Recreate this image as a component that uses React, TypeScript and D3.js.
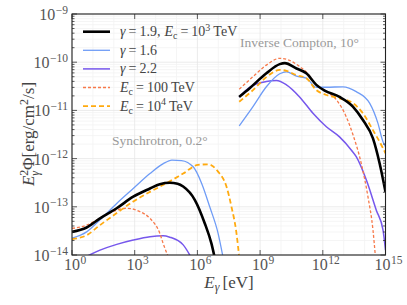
import React from 'react';
import * as d3 from 'd3';

const W = 407;
const H = 305;
const PL = 72, PT = 14, PR = 385.5, PB = 255;

// log10(E / eV), log10(E^2 Phi / erg cm^-2 s^-1)
const blackSync: [number, number][] = [[0,-13.52],[0.7,-13.43],[1.34,-13.24],[2.14,-13.03],[2.93,-12.79],[3.73,-12.62],[4.2,-12.53],[4.68,-12.5],[5.05,-12.52],[5.32,-12.58],[5.88,-12.86],[6.35,-13.34],[6.67,-13.76],[6.85,-14.1]];
const blueSync: [number, number][] = [[0,-13.65],[0.7,-13.52],[1.34,-13.27],[2.14,-12.93],[2.93,-12.62],[3.73,-12.31],[4.35,-12.11],[4.78,-12.03],[5.24,-12.04],[5.8,-12.17],[6.2,-12.51],[6.59,-13.0],[6.99,-13.55],[7.25,-14.1]];
const purpleSync: [number, number][] = [[0.6,-14.05],[1.34,-13.9],[2.14,-13.78],[2.93,-13.69],[3.73,-13.62],[4.36,-13.6],[4.68,-13.63],[5.32,-13.79],[5.7,-14.05]];
const orangeSync: [number, number][] = [[0,-13.45],[0.7,-13.38],[1.34,-13.24],[2.14,-13.07],[2.61,-13.03],[3.25,-13.1],[3.73,-13.24],[4.2,-13.55],[4.36,-13.76],[4.62,-14.05]];
const yellowSync: [number, number][] = [[0,-13.67],[0.7,-13.59],[1.34,-13.38],[2.14,-13.13],[2.93,-12.89],[3.73,-12.69],[4.52,-12.51],[5.32,-12.31],[6.03,-12.13],[6.51,-12.12],[6.99,-12.27],[7.39,-12.58],[7.63,-13.0],[7.87,-13.55],[8.0,-14.05]];

const blackIC: [number, number][] = [[8,-10.72],[8.5,-10.54],[9.3,-10.23],[9.94,-10.04],[10.18,-10.02],[10.74,-10.13],[11.21,-10.23],[11.69,-10.47],[12.09,-10.59],[12.8,-10.72],[13.44,-10.92],[13.92,-11.2],[14.4,-11.58],[14.72,-12.1],[15,-12.69]];
const blueIC: [number, number][] = [[8,-11.32],[8.66,-10.92],[9.3,-10.51],[9.94,-10.24],[10.26,-10.2],[10.74,-10.29],[11.21,-10.33],[11.69,-10.52],[12.17,-10.52],[12.96,-10.51],[13.6,-10.61],[14.24,-10.85],[14.64,-11.27],[14.88,-11.65],[15,-11.75]];
const purpleIC: [number, number][] = [[8,-10.72],[8.5,-10.52],[9.3,-10.4],[9.78,-10.38],[10.26,-10.47],[10.89,-10.72],[11.53,-11.06],[12.17,-11.34],[12.8,-11.55],[13.36,-11.82],[13.6,-11.96],[14.08,-12.44],[14.56,-13.07],[14.88,-13.48],[15,-13.9]];
const orangeIC: [number, number][] = [[8,-10.56],[8.66,-10.3],[9.3,-10.06],[9.94,-9.92],[10.34,-9.95],[10.89,-10.09],[11.21,-10.2],[11.69,-10.47],[12.17,-10.61],[12.65,-10.78],[13.12,-11.13],[13.44,-11.5],[13.84,-12.1],[14.16,-12.79],[14.4,-13.48],[14.52,-14.05]];
const yellowIC: [number, number][] = [[8,-10.82],[8.66,-10.58],[9.3,-10.31],[9.94,-10.16],[10.26,-10.18],[10.74,-10.27],[11.21,-10.33],[11.69,-10.58],[12.17,-10.68],[12.8,-10.75],[13.44,-10.85],[13.92,-11.06],[14.4,-11.41],[14.84,-11.75],[15,-11.89]];

const xTickExps = [0, 3, 6, 9, 12, 15];
const yTickExps = [-14, -13, -12, -11, -10, -9];

const C_BLACK = '#000000';
const C_BLUE = '#6f9cf6';
const C_PURPLE = '#7657ec';
const C_ORANGE = '#f7794a';
const C_YELLOW = '#ffaa0f';

type Series = { key: string; color: string; width: number; dash?: string; parts: [number, number][][] };
const series: Series[] = [
  { key: 'purple', color: C_PURPLE, width: 1.5, parts: [purpleSync, purpleIC] },
  { key: 'blue', color: C_BLUE, width: 1.3, parts: [blueSync, blueIC] },
  { key: 'orange', color: C_ORANGE, width: 1.3, dash: '3,2', parts: [orangeSync, orangeIC] },
  { key: 'yellow', color: C_YELLOW, width: 1.8, dash: '5,3', parts: [yellowSync, yellowIC] },
  { key: 'black', color: C_BLACK, width: 2.6, parts: [blackSync, blackIC] },
];

const FONT = '"Liberation Serif", "DejaVu Serif", serif';

function Pow10({ x, y, n, anchor }: { x: number; y: number; n: number; anchor: string }) {
  const s = n < 0 ? '\u2212' + Math.abs(n) : String(n);
  return (
    <text x={x} y={y} textAnchor={anchor} fontFamily={FONT} fontSize={16} fill="#555">
      <tspan>10</tspan>
      <tspan dy={-6.5} dx={0.5} fontSize={11.5}>{s}</tspan>
    </text>
  );
}

const EQ = (key: string) => (
  <tspan key={key} dx={3} dy={0}>=</tspan>
);

export default function App() {
  const x = d3.scaleLog().domain([1e0, 1e15]).range([PL, PR]);
  const y = d3.scaleLog().domain([1e-14, 1e-9]).range([PB, PT]);
  const line = d3
    .line<[number, number]>()
    .x((d) => x(Math.pow(10, d[0])))
    .y((d) => y(Math.pow(10, d[1])))
    .curve(d3.curveMonotoneX);

  const xMajor = d3.range(0, 16).map((e) => e);
  const yMinor: number[] = [];
  for (let e = -14; e < -9; e++) for (let k = 2; k <= 9; k++) yMinor.push(k * Math.pow(10, e));

  const legend = [
    { color: C_BLACK, width: 2.6, dash: undefined as string | undefined, label: 0 },
    { color: C_BLUE, width: 1.3, dash: undefined, label: 1 },
    { color: C_PURPLE, width: 1.5, dash: undefined, label: 2 },
    { color: C_ORANGE, width: 1.3, dash: '3,2', label: 3 },
    { color: C_YELLOW, width: 1.8, dash: '5,3', label: 4 },
  ];
  const legY = [31.7, 50.3, 68.9, 87.5, 106.1];

  const legLabel = (i: number) => {
    if (i === 0)
      return (
        <>
          <tspan fontStyle="italic">γ</tspan>
          {EQ('a')}
          <tspan dx={3}>1.9,</tspan>
          <tspan dx={4} fontStyle="italic">E</tspan>
          <tspan dy={3} fontSize={10}>c</tspan>
          <tspan dx={3} dy={-3}>=</tspan>
          <tspan dx={3}>10</tspan>
          <tspan dy={-5.5} fontSize={10}>3</tspan>
          <tspan dx={3} dy={5.5}>TeV</tspan>
        </>
      );
    if (i === 1)
      return (
        <>
          <tspan fontStyle="italic">γ</tspan>
          {EQ('b')}
          <tspan dx={3}>1.6</tspan>
        </>
      );
    if (i === 2)
      return (
        <>
          <tspan fontStyle="italic">γ</tspan>
          {EQ('c')}
          <tspan dx={3}>2.2</tspan>
        </>
      );
    if (i === 3)
      return (
        <>
          <tspan fontStyle="italic">E</tspan>
          <tspan dy={3} fontSize={10}>c</tspan>
          <tspan dx={3} dy={-3}>=</tspan>
          <tspan dx={3}>100</tspan>
          <tspan dx={3}>TeV</tspan>
        </>
      );
    return (
      <>
        <tspan fontStyle="italic">E</tspan>
        <tspan dy={3} fontSize={10}>c</tspan>
        <tspan dx={3} dy={-3}>=</tspan>
        <tspan dx={3}>10</tspan>
        <tspan dy={-5.5} fontSize={10}>4</tspan>
        <tspan dx={3} dy={5.5}>TeV</tspan>
      </>
    );
  };

  return (
    <svg width={W} height={H} style={{ position: 'absolute', left: 0, top: 0, background: '#fff' }}>
      <defs>
        <clipPath id="plotclip">
          <rect x={PL} y={PT} width={PR - PL} height={PB - PT} />
        </clipPath>
      </defs>
      <rect x={0} y={0} width={W} height={H} fill="#fff" />
      {/* grid */}
      <g>
        {yMinor.map((v, i) => (
          <line key={'ym' + i} x1={PL} x2={PR} y1={y(v)} y2={y(v)} stroke="#f3f3f3" strokeWidth={0.8} />
        ))}
        {xMajor.map((e) => (
          <line key={'xg' + e} x1={x(Math.pow(10, e))} x2={x(Math.pow(10, e))} y1={PT} y2={PB} stroke={e % 3 === 0 ? '#e6e6e6' : '#f3f3f3'} strokeWidth={0.8} />
        ))}
        {yTickExps.map((e) => (
          <line key={'yg' + e} x1={PL} x2={PR} y1={y(Math.pow(10, e))} y2={y(Math.pow(10, e))} stroke="#e6e6e6" strokeWidth={0.8} />
        ))}
      </g>
      {/* curves */}
      <g clipPath="url(#plotclip)">
        {series.map((s) =>
          s.parts.map((p, j) => (
            <path
              key={s.key + j}
              d={line(p) || ''}
              fill="none"
              stroke={s.color}
              strokeWidth={s.width}
              strokeDasharray={s.dash}
              strokeLinejoin="round"
            />
          ))
        )}
      </g>
      {/* annotations */}
      <text x={240} y={47} fontFamily={FONT} fontSize={13.5} fill="#9a9a9a">Inverse Compton, 10°</text>
      <text x={112} y={145} fontFamily={FONT} fontSize={13.5} fill="#9a9a9a">Synchrotron, 0.2°</text>
      {/* legend */}
      {legend.map((l, i) => (
        <g key={'lg' + i}>
          <line x1={83} x2={110} y1={legY[i]} y2={legY[i]} stroke={l.color} strokeWidth={l.width} strokeDasharray={l.dash} />
          <text x={120} y={legY[i] + 4.5} fontFamily={FONT} fontSize={14} fill="#444">
            {legLabel(l.label)}
          </text>
        </g>
      ))}
      {/* ticks */}
      <g stroke="#333" strokeWidth={0.8}>
        {xTickExps.map((e) => {
          const px = x(Math.pow(10, e));
          return (
            <g key={'xt' + e}>
              <line x1={px} x2={px} y1={PB} y2={PB - 5} />
              <line x1={px} x2={px} y1={PT} y2={PT + 5} />
            </g>
          );
        })}
        {yTickExps.map((e) => {
          const py = y(Math.pow(10, e));
          return (
            <g key={'yt' + e}>
              <line x1={PL} x2={PL + 5} y1={py} y2={py} />
              <line x1={PR} x2={PR - 5} y1={py} y2={py} />
            </g>
          );
        })}
        {yMinor.map((v, i) => (
          <g key={'ymt' + i}>
            <line x1={PL} x2={PL + 2.5} y1={y(v)} y2={y(v)} />
            <line x1={PR} x2={PR - 2.5} y1={y(v)} y2={y(v)} />
          </g>
        ))}
      </g>
      {/* frame */}
      <rect x={PL} y={PT} width={PR - PL} height={PB - PT} fill="none" stroke="#222" strokeWidth={1.1} />
      {/* tick labels */}
      {xTickExps.map((e) => (
        <Pow10 key={'xl' + e} x={x(Math.pow(10, e)) + 3} y={270} n={e} anchor="middle" />
      ))}
      {yTickExps.map((e) => (
        <Pow10 key={'yl' + e} x={68} y={y(Math.pow(10, e)) + 6} n={e} anchor="end" />
      ))}
      {/* axis titles */}
      <text x={229} y={288} textAnchor="middle" fontFamily={FONT} fontSize={17} fill="#444">
        <tspan fontStyle="italic">E</tspan>
        <tspan dy={3} fontSize={12} fontStyle="italic">γ</tspan>
        <tspan dx={3} dy={-3}>[eV]</tspan>
      </text>
      <text transform={`translate(34,134) rotate(-90)`} textAnchor="middle" fontFamily={FONT} fontSize={17} fill="#444">
        <tspan fontStyle="italic">E</tspan>
        <tspan dy={-6.5} fontSize={12}>2</tspan>
        <tspan dx={-6} dy={11} fontSize={12} fontStyle="italic">γ</tspan>
        <tspan dx={1} dy={-4.5}>Φ[erg/cm</tspan>
        <tspan dy={-6.5} fontSize={12}>2</tspan>
        <tspan dy={6.5}>/s]</tspan>
      </text>
    </svg>
  );
}
